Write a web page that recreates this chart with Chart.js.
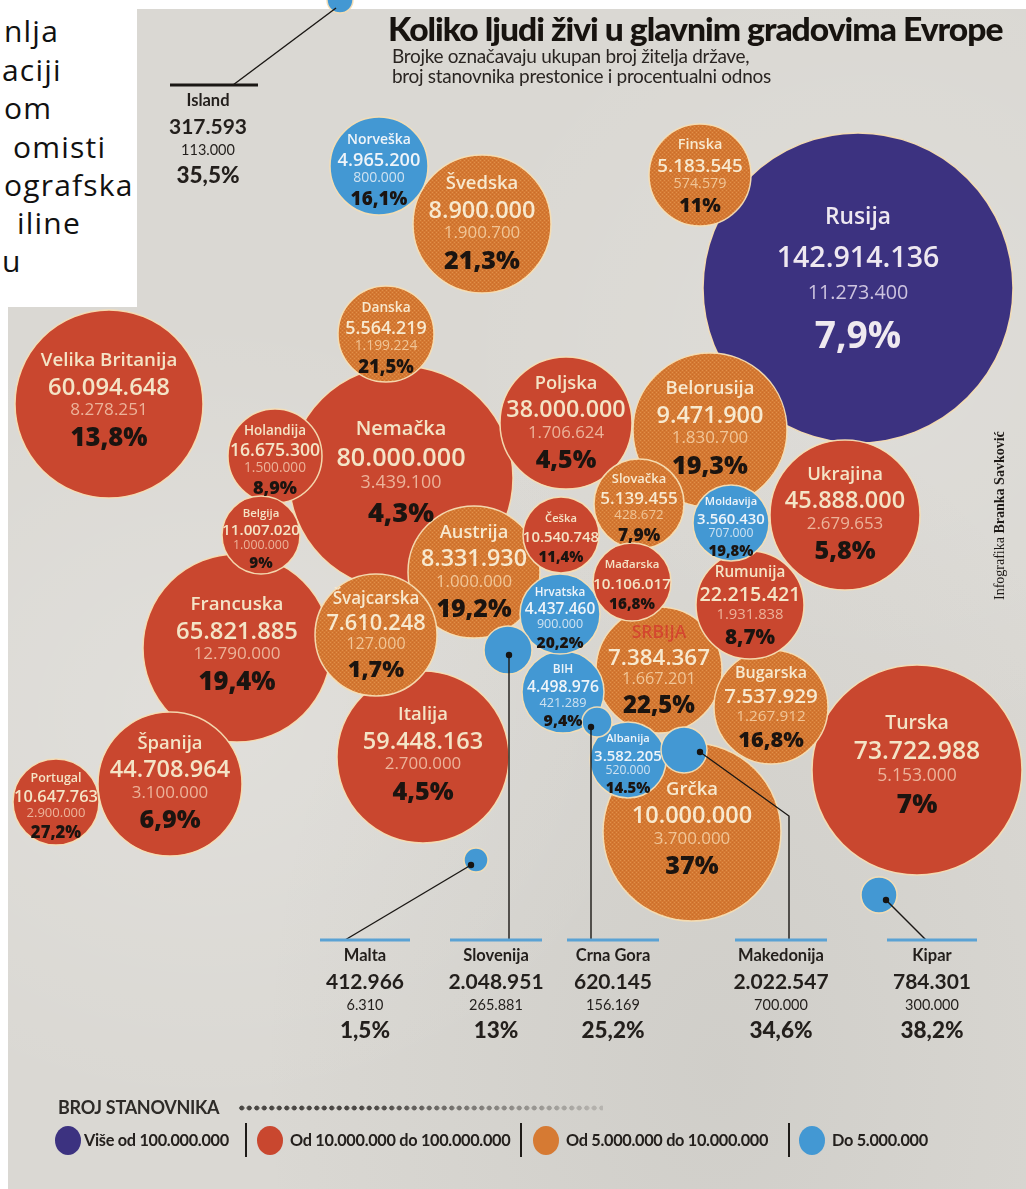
<!DOCTYPE html>
<html>
<head>
<meta charset="utf-8">
<script src="https://cdn.jsdelivr.net/npm/chart.js"></script>
<style>
  html, body { margin: 0; padding: 0; }
  body {
    width: 1026px; height: 1189px; overflow: hidden; position: relative;
    background: #dad8d3;
    background-image:
      radial-gradient(ellipse at 20% 60%, rgba(255,255,255,0.18), transparent 40%),
      radial-gradient(ellipse at 70% 90%, rgba(120,120,115,0.10), transparent 45%),
      radial-gradient(ellipse at 85% 30%, rgba(255,255,255,0.12), transparent 35%);
    font-family: "Open Sans", sans-serif;
  }
  .strip { position: absolute; background: #fff; }
  #clip {
    position: absolute; left: 0; top: 0; width: 137px; height: 307px;
    background: #fff; overflow: hidden; font-size: 30px; color: #111; letter-spacing: 1.2px;
  }
  #clip div { position: absolute; line-height: 38px; white-space: nowrap; }
  #chart { position: absolute; left: 0; top: 0; z-index: 1; }
  #title {
    position: absolute; left: 388px; top: 8px; margin: 0; z-index: 2;
    font: 900 33px Lato, sans-serif; color: #17130f; letter-spacing: -1px;
    white-space: nowrap; transform-origin: 0 0;
  }
  #sub {
    position: absolute; left: 392px; top: 46px; z-index: 2;
    font: 400 19px/20px Lato, sans-serif; color: #2a2522; letter-spacing: -0.3px;
  }
  #credit {
    position: absolute; left: 992px; top: 425px; height: 175px; z-index: 2;
    writing-mode: vertical-rl; transform: rotate(180deg);
    font: 14px "Liberation Serif", serif; color: #1e1a17; white-space: nowrap;
  }
  #legend-head {
    position: absolute; left: 58px; top: 1096px; z-index: 2;
    font: 700 18px Lato, sans-serif; color: #2e2b28; letter-spacing: -0.3px;
  }
  #dots {
    position: absolute; left: 238px; top: 1104px; width: 365px; height: 8px;
    background-image: radial-gradient(circle, #4a4744 2.3px, transparent 2.7px);
    background-size: 7.5px 8px;
    -webkit-mask-image: linear-gradient(to right, #000 35%, rgba(0,0,0,0.2));
  }
  .lg { position: absolute; top: 1129px; z-index: 2; font: 700 16.3px Lato, sans-serif;
        color: #24201d; letter-spacing: -0.3px; line-height: 22px; white-space: nowrap; }
  .sw { position: absolute; top: 1126px; width: 26px; height: 29px; border-radius: 50%; }
  .sep { position: absolute; top: 1123px; width: 2px; height: 34px; background: #1e1b18; }
</style>
</head>
<body>
<div class="strip" style="left:137px;top:0;width:889px;height:9px"></div>
<div class="strip" style="left:0;top:307px;width:8px;height:882px"></div>
<div id="clip">
  <div style="left:4px;top:12px">nlja</div>
  <div style="left:2px;top:51px">aciji</div>
  <div style="left:4px;top:89px">om</div>
  <div style="left:13px;top:128px">omisti</div>
  <div style="left:4px;top:166px">ografska</div>
  <div style="left:17px;top:204px">iline</div>
  <div style="left:2px;top:242px">u</div>
</div>

<canvas id="chart" width="1026" height="1189"></canvas>

<h1 id="title">Koliko ljudi živi u glavnim gradovima Evrope</h1>
<div id="sub">Brojke označavaju ukupan broj žitelja države,<br>broj stanovnika prestonice i procentualni odnos</div>
<div id="credit">Infografika <b>Branka Savković</b></div>

<div id="legend-head">BROJ STANOVNIKA</div>
<div id="dots"></div>
<div class="sw" style="left:55px;background:#3c3280"></div>
<div class="lg" style="left:84px">Više od 100.000.000</div>
<div class="sep" style="left:245px"></div>
<div class="sw" style="left:257px;background:#c9472f"></div>
<div class="lg" style="left:290px">Od 10.000.000 do 100.000.000</div>
<div class="sep" style="left:520px"></div>
<div class="sw" style="left:533px;background:#d67a33"></div>
<div class="lg" style="left:566px">Od 5.000.000 do 10.000.000</div>
<div class="sep" style="left:788px"></div>
<div class="sw" style="left:799px;background:#4398d3"></div>
<div class="lg" style="left:832px">Do 5.000.000</div>

<script>
const countries = ['Island','Norveška','Švedska','Finska','Rusija','Danska','Velika Britanija','Nemačka',
  'Holandija','Belgija','Poljska','Belorusija','Ukrajina','Slovačka','Češka','Moldavija','Austrija',
  'Mađarska','Francuska','Švajcarska','Hrvatska','Rumunija','Slovenija','BIH','SRBIJA','Bugarska',
  'Crna Gora','Makedonija','Albanija','Grčka','Italija','Španija','Portugal','Turska','Malta','Kipar'];

const population = [317593, 4965200, 8900000, 5183545, 142914136, 5564219, 60094648, 80000000,
  16675300, 11007020, 38000000, 9471900, 45888000, 5139455, 10540748, 3560430, 8331930,
  10106017, 65821885, 7610248, 4437460, 22215421, 2048951, 4498976, 7384367, 7537929,
  620145, 2022547, 3582205, 10000000, 59448163, 44708964, 10647763, 73722988, 412966, 784301];

const capital = [113000, 800000, 1900700, 574579, 11273400, 1199224, 8278251, 3439100,
  1500000, 1000000, 1706624, 1830700, 2679653, 428672, null, 707000, 1000000,
  null, 12790000, 127000, 900000, 1931838, 265881, 421289, 1667201, 1267912,
  156169, 700000, 520000, 3700000, 2700000, 3100000, 2900000, 5153000, 6310, 300000];

const shareLabels = ['35,5%','16,1%','21,3%','11%','7,9%','21,5%','13,8%','4,3%',
  '8,9%','9%','4,5%','19,3%','5,8%','7,9%','11,4%','19,8%','19,2%',
  '16,8%','19,4%','1,7%','20,2%','8,7%','13%','9,4%','22,5%','16,8%',
  '25,2%','34,6%','14.5%','37%','4,5%','6,9%','27,2%','7%','1,5%','38,2%'];

// bubble centre and size, in the picture's own grid
const posX = [340, 379, 482, 700, 858, 386, 109, 401, 275, 261, 566, 710, 845, 639, 561, 731, 474,
  632, 237, 376, 560, 750, 508, 563, 659, 771, 597, 684, 628, 692, 423, 170, 56, 917, 476, 879];
const posY = [0, 166, 224, 175, 288, 334, 404, 478, 456, 535, 423, 430, 515, 504, 535, 523, 572,
  582, 648, 635, 614, 605, 650, 692, 670, 707, 722, 750, 760, 832, 757, 784, 802, 770, 860, 895];
const radius = [13, 49, 69, 51, 155, 48, 94, 112, 47, 39, 66, 77, 75, 45, 38, 38, 66,
  39, 94, 61, 40, 54, 24, 41, 63, 57, 15, 23, 38, 89, 86, 72, 43, 105, 12, 18];

// small countries labelled outside the cluster
const callouts = {
  'Island':     { bar: [170, 258, 85],  cx: 208, color: '#1a1714', path: [[-4, 8], [233, 85]], dot: false },
  'Malta':      { bar: [320, 410, 940], cx: 365, color: '#5aa2d4', path: [[-5, 5], [345, 940]], dot: true },
  'Slovenija':  { bar: [450, 542, 940], cx: 496, color: '#5aa2d4', path: [[1, 5], [509, 940]], dot: true },
  'Crna Gora':  { bar: [567, 659, 940], cx: 613, color: '#5aa2d4', path: [[-6, 5], [591, 940]], dot: true },
  'Makedonija': { bar: [735, 827, 940], cx: 781, color: '#5aa2d4', path: [[16, 2], [789, 816], [789, 940]], dot: true },
  'Kipar':      { bar: [887, 977, 940], cx: 932, color: '#5aa2d4', path: [[7, 5], [926, 940]], dot: true }
};

function fmt(n) { return n.toString().replace(/\B(?=(\d{3})+(?!\d))/g, '.'); }

function groupOf(p) {
  if (p > 100000000) return 0;
  if (p > 10000000) return 1;
  if (p >= 5000000) return 2;
  return 3;
}

// orange bubbles are printed with a coarse screen
function orangePattern() {
  const c = document.createElement('canvas');
  c.width = 4; c.height = 4;
  const g = c.getContext('2d');
  g.fillStyle = '#d47832';
  g.fillRect(0, 0, 4, 4);
  g.fillStyle = '#e0904a';
  g.fillRect(0, 0, 1, 1); g.fillRect(2, 2, 1, 1);
  g.fillStyle = '#c96d2a';
  g.fillRect(2, 0, 1, 1); g.fillRect(0, 2, 1, 1);
  return g.createPattern(c, 'repeat');
}

const ctx = document.getElementById('chart').getContext('2d');
const fills = ['#3c3280', '#c9472f', orangePattern(), '#4398d3'];
const capColors = ['#cdc4df', '#ecb39a', '#f0c596', '#cfe2f1'];
const textColors = ['#eee8f0', '#f4e4c6', '#f7e9cf', '#eef4f9'];

// large bubbles first so the small ones sit on top
const order = countries.map((_, i) => i).sort((a, b) => radius[b] - radius[a]);

const labelPlugin = {
  id: 'bubbleLabels',
  afterDatasetsDraw(chart) {
    const c = chart.ctx;
    const meta = chart.getDatasetMeta(0);
    c.save();
    c.textAlign = 'center';
    c.textBaseline = 'middle';
    meta.data.forEach((pt, k) => {
      const i = order[k];
      const name = countries[i];
      const co = callouts[name];
      if (co) {
        // leader line, bar and outside label
        c.strokeStyle = '#1a1714';
        c.lineWidth = 1.4;
        c.beginPath();
        c.moveTo(pt.x + co.path[0][0], pt.y + co.path[0][1]);
        co.path.slice(1).forEach(p => c.lineTo(p[0], p[1]));
        c.stroke();
        if (co.dot) {
          c.fillStyle = '#161412';
          c.beginPath();
          c.arc(pt.x + co.path[0][0], pt.y + co.path[0][1], 3.2, 0, Math.PI * 2);
          c.fill();
        }
        c.strokeStyle = co.color;
        c.lineWidth = 3;
        c.beginPath();
        c.moveTo(co.bar[0], co.bar[2]);
        c.lineTo(co.bar[1], co.bar[2]);
        c.stroke();
        const y0 = co.bar[2];
        c.fillStyle = '#231f1c';
        c.font = '700 16.5px Lato';
        c.fillText(name, co.cx, y0 + 16);
        c.font = '700 21px Lato';
        c.fillText(fmt(population[i]), co.cx, y0 + 42);
        c.font = '400 14.5px Lato';
        c.fillText(fmt(capital[i]), co.cx, y0 + 65);
        c.font = '900 22.5px Lato';
        c.fillText(shareLabels[i], co.cx, y0 + 91);
        return;
      }
      const r = radius[i];
      const g = groupOf(population[i]);
      const f = r < 90 ? Math.min(23.5, 0.3 * r + 3.5) : 23.5 + (r - 90) * 0.078;
      const sp = 1 + Math.max(0, r - 110) * 0.006;
      const cx = pt.x;
      const cy = pt.y - Math.max(0, r - 50) * 0.12 + (r < 50 ? 3 : 0);
      const hasCap = capital[i] != null;
      const off = hasCap ? [-1.6, -0.45, 0.5, 1.7] : [-1.3, 0, 0, 1.3];

      c.fillStyle = name === 'SRBIJA' ? '#d4472f' : textColors[g];
      c.font = `600 ${0.85 * f - 1.5}px "Open Sans"`;
      c.fillText(name, cx, cy + off[0] * f * sp);

      c.fillStyle = textColors[g];
      c.font = `600 ${f}px "Open Sans"`;
      c.fillText(fmt(population[i]), cx, cy + off[1] * f * sp);

      if (hasCap) {
        c.fillStyle = capColors[g];
        c.font = `400 ${0.55 * f + 4}px "Open Sans"`;
        c.fillText(fmt(capital[i]), cx, cy + off[2] * f * sp);
      }

      c.fillStyle = g === 0 ? '#efe9ef' : '#1b1410';
      c.font = g === 0 ? `700 ${1.3 * f}px "Open Sans"` : `800 ${1.2 * f - 3}px "Open Sans"`;
      c.fillText(shareLabels[i], cx, cy + off[3] * f * sp);
    });
    c.restore();
  }
};

new Chart(ctx, {
  type: 'bubble',
  data: {
    datasets: [{
      data: order.map(i => ({ x: posX[i], y: posY[i], r: radius[i] })),
      backgroundColor: order.map(i => fills[groupOf(population[i])]),
      borderColor: 'rgba(245,222,180,0.95)',
      borderWidth: 1.5,
      clip: false
    }]
  },
  options: {
    responsive: false,
    animation: false,
    events: [],
    layout: { padding: 0, autoPadding: false },
    scales: {
      x: { type: 'linear', min: 0, max: 1026, display: false },
      y: { type: 'linear', min: 0, max: 1189, reverse: true, display: false }
    },
    plugins: { legend: { display: false }, tooltip: { enabled: false } }
  },
  plugins: [labelPlugin]
});

// squeeze the headline to the printed width
const title = document.getElementById('title');
title.style.transform = `scaleX(${615 / title.offsetWidth})`;
</script>
</body>
</html>
